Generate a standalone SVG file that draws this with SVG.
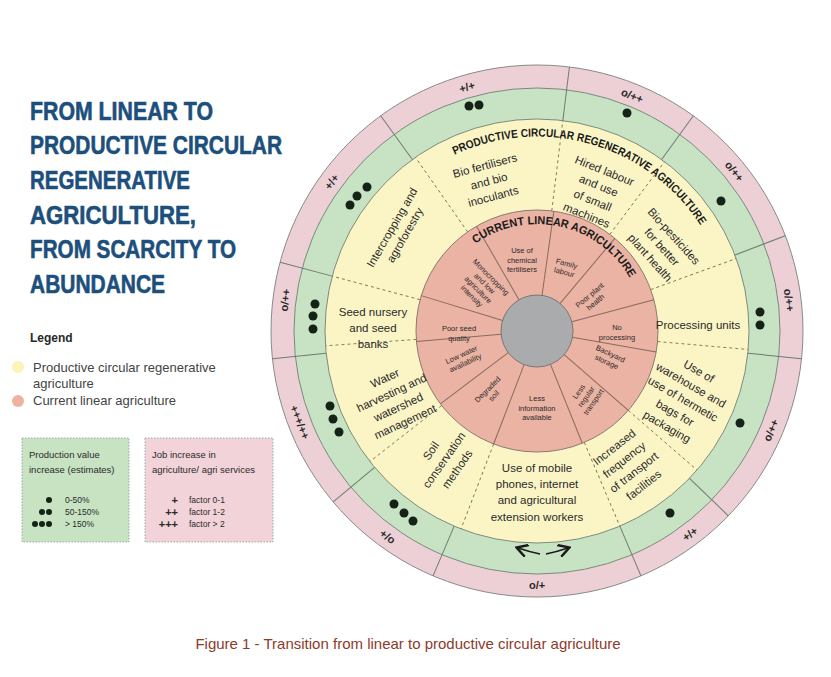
<svg xmlns="http://www.w3.org/2000/svg" width="831" height="677" viewBox="0 0 831 677">
<style>
.t{font-family:"Liberation Sans",Arial,sans-serif;fill:#2a2a2a}
.y{font-size:11.5px;text-anchor:middle}
.p{font-size:7.5px;text-anchor:middle}
.r{font-size:11px;font-weight:bold;text-anchor:middle;dominant-baseline:central}
.sl{stroke:#6f7b70;stroke-width:1;fill:none}
.dl{stroke:#7a7650;stroke-width:0.9;stroke-dasharray:3,3;fill:none}
.dot{fill:#142218}
.ttl{font-family:"Liberation Sans",Arial,sans-serif;font-weight:bold;font-size:25px;fill:#1d4f7c;stroke:#1d4f7c;stroke-width:0.6}
.cur{font-family:"Liberation Sans",Arial,sans-serif;font-weight:bold;font-size:11.5px;fill:#1a1a1a}
</style>
<defs>
<path id="arcP" d="M353.8,264.3 A195,195 0 0 1 727.7,371.5"/>
<path id="arcC" d="M436.5,294.4 A107,107 0 0 1 643.6,340.3"/>
<marker id="ah" markerWidth="8" markerHeight="8" refX="6" refY="4" orient="auto"><path d="M0,0 L7,4 L0,8" fill="none" stroke="#1a1a1a" stroke-width="1.5"/></marker>
</defs>
<rect width="831" height="677" fill="#ffffff"/>

<g id="title">
<text class="ttl" x="30" y="120" textLength="183" lengthAdjust="spacingAndGlyphs">FROM LINEAR TO</text>
<text class="ttl" x="30" y="154" textLength="252" lengthAdjust="spacingAndGlyphs">PRODUCTIVE CIRCULAR</text>
<text class="ttl" x="30" y="189" textLength="160" lengthAdjust="spacingAndGlyphs">REGENERATIVE</text>
<text class="ttl" x="30" y="224" textLength="166" lengthAdjust="spacingAndGlyphs">AGRICULTURE,</text>
<text class="ttl" x="30" y="258" textLength="206" lengthAdjust="spacingAndGlyphs">FROM SCARCITY TO</text>
<text class="ttl" x="30" y="293" textLength="135" lengthAdjust="spacingAndGlyphs">ABUNDANCE</text>
</g>

<g id="legend">
<text class="t" x="30" y="342" style="font-size:12px;font-weight:bold">Legend</text>
<circle cx="18" cy="367" r="6" fill="#fbf3b8"/>
<text class="t" x="33" y="372" style="font-size:13px;fill:#444">Productive circular regenerative</text>
<text class="t" x="33" y="388" style="font-size:13px;fill:#444">agriculture</text>
<circle cx="18" cy="401" r="6" fill="#eeb3a0"/>
<text class="t" x="33" y="405" style="font-size:13px;fill:#444">Current linear agriculture</text>
<rect x="22" y="438" width="107" height="104" fill="#c8e3c2" stroke="#9aa" stroke-dasharray="1.5,1.5"/>
<text class="t" x="29" y="458" style="font-size:9.5px">Production value</text>
<text class="t" x="29" y="473" style="font-size:9.5px">increase (estimates)</text>
<circle class="dot" cx="49" cy="500" r="3"/>
<circle class="dot" cx="42" cy="512" r="3"/><circle class="dot" cx="49" cy="512" r="3"/>
<circle class="dot" cx="35" cy="524" r="3"/><circle class="dot" cx="42" cy="524" r="3"/><circle class="dot" cx="49" cy="524" r="3"/>
<text class="t" x="65" y="503" style="font-size:8.5px">0-50%</text>
<text class="t" x="65" y="515" style="font-size:8.5px">50-150%</text>
<text class="t" x="65" y="527" style="font-size:8.5px">&gt; 150%</text>
<rect x="145" y="438" width="128" height="104" fill="#f2d3d9" stroke="#9aa" stroke-dasharray="1.5,1.5"/>
<text class="t" x="152" y="458" style="font-size:9.5px">Job increase in</text>
<text class="t" x="152" y="473" style="font-size:9.5px">agriculture/ agri services</text>
<text class="t" x="178" y="504" style="font-size:11px;font-weight:bold;text-anchor:end">+</text>
<text class="t" x="178" y="516" style="font-size:11px;font-weight:bold;text-anchor:end">++</text>
<text class="t" x="178" y="528" style="font-size:11px;font-weight:bold;text-anchor:end">+++</text>
<text class="t" x="189" y="503" style="font-size:8.5px">factor 0-1</text>
<text class="t" x="189" y="515" style="font-size:8.5px">factor 1-2</text>
<text class="t" x="189" y="527" style="font-size:8.5px">factor &gt; 2</text>
</g>

<g id="rings">
<circle cx="537" cy="331" r="266" fill="#ecd0d6" stroke="#8a8a8a" stroke-width="1"/>
<circle cx="537" cy="331" r="243" fill="#c8e3c4" stroke="#7b8a7b" stroke-width="1"/>
<circle cx="537" cy="331" r="212" fill="#fbf5c6" stroke="#7b8a7b" stroke-width="1"/>
<circle cx="537" cy="331" r="121" fill="#eab3a3" stroke="#8a7a70" stroke-width="1"/>
<circle cx="537" cy="331" r="36" fill="#a9abad" stroke="#777" stroke-width="1"/>
</g>

<g id="connectors" transform="translate(537,331)">
<g class="sl">
<line x1="0" y1="-212" x2="0" y2="-266" transform="rotate(7)"/>
<line x1="0" y1="-212" x2="0" y2="-266" transform="rotate(36)"/>
<line x1="0" y1="-212" x2="0" y2="-266" transform="rotate(69)"/>
<line x1="0" y1="-212" x2="0" y2="-266" transform="rotate(96)"/>
<line x1="0" y1="-212" x2="0" y2="-266" transform="rotate(134)"/>
<line x1="0" y1="-212" x2="0" y2="-266" transform="rotate(157)"/>
<line x1="0" y1="-212" x2="0" y2="-266" transform="rotate(203)"/>
<line x1="0" y1="-212" x2="0" y2="-266" transform="rotate(230)"/>
<line x1="0" y1="-212" x2="0" y2="-266" transform="rotate(264)"/>
<line x1="0" y1="-212" x2="0" y2="-266" transform="rotate(285)"/>
<line x1="0" y1="-212" x2="0" y2="-266" transform="rotate(324)"/>
</g>
<g class="dl">
<line x1="0" y1="-121" x2="0" y2="-212" transform="rotate(7)"/>
<line x1="0" y1="-121" x2="0" y2="-212" transform="rotate(37)"/>
<line x1="0" y1="-121" x2="0" y2="-212" transform="rotate(70)"/>
<line x1="0" y1="-121" x2="0" y2="-212" transform="rotate(95)"/>
<line x1="0" y1="-121" x2="0" y2="-212" transform="rotate(131)"/>
<line x1="0" y1="-121" x2="0" y2="-212" transform="rotate(157)"/>
<line x1="0" y1="-121" x2="0" y2="-212" transform="rotate(201)"/>
<line x1="0" y1="-121" x2="0" y2="-212" transform="rotate(232)"/>
<line x1="0" y1="-121" x2="0" y2="-212" transform="rotate(266)"/>
<line x1="0" y1="-121" x2="0" y2="-212" transform="rotate(285)"/>
<line x1="0" y1="-121" x2="0" y2="-212" transform="rotate(325)"/>
</g>
<g class="sl" style="stroke:#8a6a60">
<line x1="0" y1="-36" x2="0" y2="-121" transform="rotate(8)"/>
<line x1="0" y1="-36" x2="0" y2="-121" transform="rotate(40)"/>
<line x1="0" y1="-36" x2="0" y2="-121" transform="rotate(75)"/>
<line x1="0" y1="-36" x2="0" y2="-121" transform="rotate(100)"/>
<line x1="0" y1="-36" x2="0" y2="-121" transform="rotate(131)"/>
<line x1="0" y1="-36" x2="0" y2="-121" transform="rotate(158)"/>
<line x1="0" y1="-36" x2="0" y2="-121" transform="rotate(201)"/>
<line x1="0" y1="-36" x2="0" y2="-121" transform="rotate(233)"/>
<line x1="0" y1="-36" x2="0" y2="-121" transform="rotate(265)"/>
<line x1="0" y1="-36" x2="0" y2="-121" transform="rotate(287)"/>
<line x1="0" y1="-36" x2="0" y2="-121" transform="rotate(330)"/>
</g>
</g>

<g id="outer-labels" class="t" transform="translate(537,331)">
<text class="r" transform="rotate(344) translate(0,-254)">+/+</text>
<text class="r" transform="rotate(22) translate(0,-254)">o/++</text>
<text class="r" transform="rotate(51) translate(0,-254)">o/++</text>
<text class="r" transform="rotate(83) translate(0,-254)">o/++</text>
<text class="r" transform="rotate(113) translate(0,-254) rotate(180)">o/++</text>
<text class="r" transform="rotate(143) translate(0,-254) rotate(180)">+/+</text>
<text class="r" transform="rotate(180) translate(0,-254) rotate(180)">o/+</text>
<text class="r" transform="rotate(216) translate(0,-254) rotate(180)">+/o</text>
<text class="r" transform="rotate(249) translate(0,-254) rotate(180)">+++/++</text>
<text class="r" transform="rotate(277) translate(0,-254)">o/++</text>
<text class="r" transform="rotate(306) translate(0,-254)">+/+</text>
</g>

<g id="green-marks">
<circle class="dot" cx="469" cy="106" r="4.5"/><circle class="dot" cx="479" cy="105" r="4.5"/>
<circle class="dot" cx="627" cy="113" r="4.5"/>
<circle class="dot" cx="721" cy="201" r="4.5"/>
<circle class="dot" cx="760" cy="312" r="4.5"/><circle class="dot" cx="760" cy="325" r="4.5"/>
<circle class="dot" cx="740" cy="423" r="4.5"/>
<circle class="dot" cx="670" cy="513" r="4.5"/>
<circle class="dot" cx="394" cy="504" r="4.5"/><circle class="dot" cx="404" cy="513" r="4.5"/><circle class="dot" cx="413" cy="521" r="4.5"/>
<circle class="dot" cx="330" cy="406" r="4.5"/><circle class="dot" cx="333" cy="419" r="4.5"/><circle class="dot" cx="339" cy="432" r="4.5"/>
<circle class="dot" cx="315" cy="304" r="4.5"/><circle class="dot" cx="313" cy="316" r="4.5"/><circle class="dot" cx="313" cy="329" r="4.5"/>
<circle class="dot" cx="350" cy="205" r="4.5"/><circle class="dot" cx="357" cy="196" r="4.5"/><circle class="dot" cx="367" cy="187" r="4.5"/>
<path d="M540,554 Q530,552 518,548" fill="none" stroke="#1a1a1a" stroke-width="1.6" marker-end="url(#ah)"/>
<path d="M546,554 Q556,552 568,548" fill="none" stroke="#1a1a1a" stroke-width="1.6" marker-end="url(#ah)"/>
</g>

<g id="ring-titles">
<text class="cur"><textPath href="#arcP" startOffset="50%" text-anchor="middle" textLength="279" lengthAdjust="spacingAndGlyphs">PRODUCTIVE CIRCULAR REGENERATIVE AGRICULTURE</textPath></text>
<text class="cur"><textPath href="#arcC" startOffset="50%" text-anchor="middle" textLength="178" lengthAdjust="spacingAndGlyphs">CURRENT LINEAR AGRICULTURE</textPath></text>
</g>

<g id="productive-items" class="t">
<g id="intercropping" transform="translate(398,231) rotate(-60)"><text class="y" y="-3">Intercropping and</text><text class="y" y="12">agroforestry</text></g>
<g id="biofert" transform="translate(489,181) rotate(-15)"><text class="y" y="-12">Bio fertilisers</text><text class="y" y="4">and bio</text><text class="y" y="20">inoculants</text></g>
<g id="hired" transform="translate(596,192) rotate(22)"><text class="y" y="-19">Hired labour</text><text class="y" y="-3">and use</text><text class="y" y="13">of small</text><text class="y" y="29">machines</text></g>
<g id="biopest" transform="translate(662,247) rotate(48)"><text class="y" y="-12">Bio-pesticides</text><text class="y" y="4">for better</text><text class="y" y="20">plant health</text></g>
<g id="processing"><text class="y" x="698" y="329">Processing units</text></g>
<g id="warehouse" transform="translate(683,399) rotate(30)"><text class="y" y="-28">Use of</text><text class="y" y="-12">warehouse and</text><text class="y" y="4">use of hermetic</text><text class="y" y="20">bags for</text><text class="y" y="36">packaging</text></g>
<g id="transport" transform="translate(629,466) rotate(-38)"><text class="y" y="-20">Increased</text><text class="y" y="-4">frequency</text><text class="y" y="12">of transport</text><text class="y" y="28">facilities</text></g>
<g id="mobile"><text class="y" x="537" y="472">Use of mobile</text><text class="y" x="537" y="488">phones, internet</text><text class="y" x="537" y="504">and agricultural</text><text class="y" x="537" y="521">extension workers</text></g>
<g id="soil" transform="translate(444,460) rotate(-55)"><text class="y" y="-12">Soil</text><text class="y" y="4">conservation</text><text class="y" y="20">methods</text></g>
<g id="water" transform="translate(395,400) rotate(-25)"><text class="y" y="-20">Water</text><text class="y" y="-4">harvesting and</text><text class="y" y="12">watershed</text><text class="y" y="28">management</text></g>
<g id="seed"><text class="y" x="373" y="316">Seed nursery</text><text class="y" x="373" y="332">and seed</text><text class="y" x="373" y="348">banks</text></g>
</g>

<g id="current-items" class="t">
<g id="chem"><text class="p" x="522" y="253">Use of</text><text class="p" x="522" y="262.5">chemical</text><text class="p" x="522" y="272">fertilisers</text></g>
<g id="family" transform="translate(566,266) rotate(15)"><text class="p" y="0">Family</text><text class="p" y="9">labour</text></g>
<g id="mono" transform="translate(482,286) rotate(45)"><text class="p" y="-10">Monocropping</text><text class="p" y="-1">and low</text><text class="p" y="8">agriculture</text><text class="p" y="17">intensity</text></g>
<g id="plant" transform="translate(592,298) rotate(-40)"><text class="p" y="-1">Poor plant</text><text class="p" y="8">health</text></g>
<g id="poorseed"><text class="p" x="459" y="331">Poor seed</text><text class="p" x="459" y="341">quality</text></g>
<g id="noproc"><text class="p" x="617" y="330">No</text><text class="p" x="617" y="340">processing</text></g>
<g id="lowwater" transform="translate(463,358) rotate(-25)"><text class="p" y="-1">Low water</text><text class="p" y="8">availability</text></g>
<g id="backyard" transform="translate(609,357) rotate(25)"><text class="p" y="-1">Backyard</text><text class="p" y="8">storage</text></g>
<g id="degraded" transform="translate(490,392) rotate(-45)"><text class="p" y="-1">Degraded</text><text class="p" y="8">soil</text></g>
<g id="lessinfo"><text class="p" x="537" y="401">Less</text><text class="p" x="537" y="410.5">information</text><text class="p" x="537" y="420">available</text></g>
<g id="lessreg" transform="translate(585,396) rotate(-55)"><text class="p" y="-5">Less</text><text class="p" y="4">regular</text><text class="p" y="13">transport</text></g>
</g>

<text class="t" x="408" y="649" style="font-size:15px;fill:#8c3b2b;text-anchor:middle">Figure 1 - Transition from linear to productive circular agriculture</text>
</svg>
